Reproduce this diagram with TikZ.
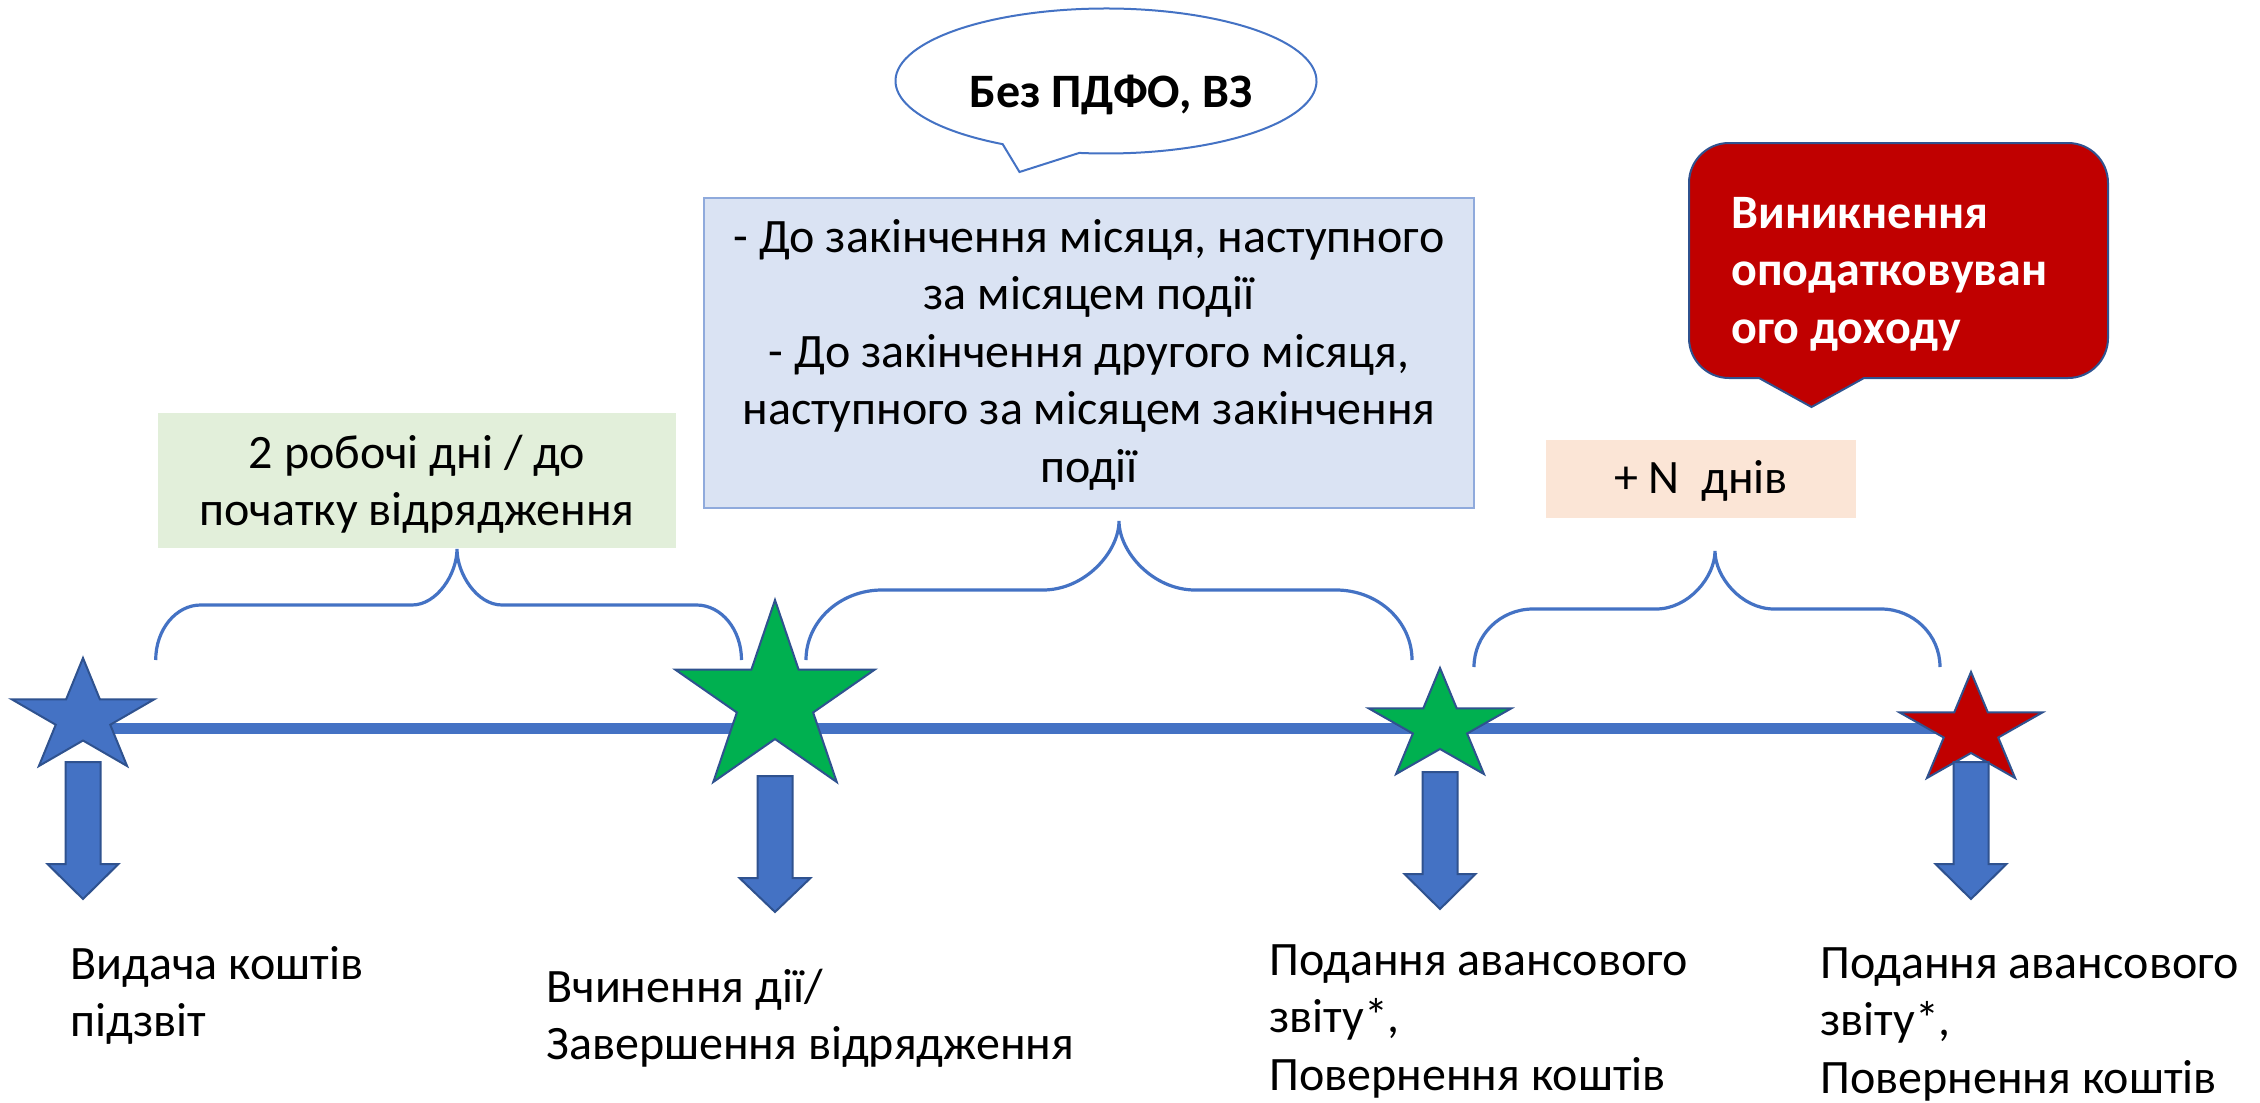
\documentclass[tikz,border=0pt]{standalone}
\usepackage{fontspec}
\setmainfont{Carlito}
\definecolor{mblue}{HTML}{4472C4}
\definecolor{dblue}{HTML}{2F528F}
\definecolor{sgreen}{HTML}{00B050}
\definecolor{sred}{HTML}{C00000}
\definecolor{boxgreen}{HTML}{E2EFDA}
\definecolor{boxblue}{HTML}{DAE3F3}
\definecolor{boxblueline}{HTML}{8FAADC}
\definecolor{boxpeach}{HTML}{FBE5D6}
\newcommand\ctext[1]{\vtop{\halign{\hfil##\hfil\cr#1\crcr}}}
\newcommand\ltext[1]{\vtop{\halign{##\hfil\cr#1\crcr}}}
\newcommand\mystar[5]{%
 \draw[starline, fill=#5] ({#1+#3*cos(90)},{#2-#4*sin(90)})
 -- ({#1+0.382*#3*cos(126)},{#2-0.382*#4*sin(126)})
 -- ({#1+#3*cos(162)},{#2-#4*sin(162)})
 -- ({#1+0.382*#3*cos(198)},{#2-0.382*#4*sin(198)})
 -- ({#1+#3*cos(234)},{#2-#4*sin(234)})
 -- ({#1+0.382*#3*cos(270)},{#2-0.382*#4*sin(270)})
 -- ({#1+#3*cos(306)},{#2-#4*sin(306)})
 -- ({#1+0.382*#3*cos(342)},{#2-0.382*#4*sin(342)})
 -- ({#1+#3*cos(18)},{#2-#4*sin(18)})
 -- ({#1+0.382*#3*cos(54)},{#2-0.382*#4*sin(54)})
 -- cycle;}
\newcommand\myarrow[4]{%
 \draw[arrowline] ({#1-17.5},#2) -- ({#1+17.5},#2) -- ({#1+17.5},#3) -- ({#1+35.5},#3)
 -- (#1,#4) -- ({#1-35.5},#3) -- ({#1-17.5},#3) -- cycle;}
% xl xt xr yt ym yb rx
\newcommand\mybrace[7]{%
 \draw[braceline] (#1,#6) .. controls (#1,{#6-0.5523*(#6-#5)}) and ({#1+#7-0.5523*#7},#5) .. ({#1+#7},#5)
 -- ({#2-#7},#5) .. controls ({#2-#7+0.5523*#7},#5) and (#2,{#5-0.5523*(#5-#4)}) .. (#2,#4)
 .. controls (#2,{#5-0.5523*(#5-#4)}) and ({#2+#7-0.5523*#7},#5) .. ({#2+#7},#5)
 -- ({#3-#7},#5) .. controls ({#3-#7+0.5523*#7},#5) and (#3,{#6-0.5523*(#6-#5)}) .. (#3,#6);}
\begin{document}
\begin{tikzpicture}[x=0.5pt,y=-0.5pt,
  starline/.style={draw=dblue, line width=1pt, line join=miter},
  arrowline/.style={draw=dblue, fill=mblue, line width=1pt},
  braceline/.style={draw=mblue, line width=1.6pt},
  txt/.style={font=\fontsize{24}{28.75}\selectfont, inner sep=0pt, text=black}]
\useasboundingbox[fill=white] (0,0) rectangle (2260,1103);
% boxes
\fill[boxgreen] (158,413) rectangle (676,548);
\draw[fill=boxblue, draw=boxblueline, line width=1pt] (704,198) rectangle (1474,508);
\fill[boxpeach] (1546,440) rectangle (1856,518);
% speech bubble
\draw[draw=mblue, fill=white, line width=1pt]
  ({1106+210.5*cos(119.4)},{81+72.5*sin(119.4)})
  arc[start angle=119.4, end angle=457.3, x radius=210.5, y radius=72.5]
  -- (1019.5,172) -- cycle;
% red callout
\draw[fill=sred, draw=dblue, line width=1pt]
  (1729,143) -- (2068,143) arc[start angle=270,end angle=360,radius=40]
  -- (2108,338) arc[start angle=0,end angle=90,radius=40]
  -- (1864,378) -- (1811.5,407) -- (1759,378) -- (1729,378)
  arc[start angle=90,end angle=180,radius=40]
  -- (1689,183) arc[start angle=180,end angle=270,radius=40] -- cycle;
% braces
\mybrace{155.7}{457}{741.5}{549}{605}{660}{45}
\mybrace{806}{1119}{1412}{521}{590}{660}{76}
\mybrace{1474}{1715}{1940}{551}{609}{667}{59}
% timeline
\draw[mblue, line width=5.75pt] (83,728.5) -- (1971,728.5);
% stars
\mystar{83}{717.7}{75}{59.7}{mblue}
\mystar{775}{700.6}{105}{100.6}{sgreen}
\mystar{1440}{726.6}{74.7}{58.6}{sgreen}
\mystar{1971}{730.6}{75}{58.6}{sred}
% arrows
\myarrow{83}{762}{864}{899}
\myarrow{775}{776}{878}{912}
\myarrow{1440}{772}{874}{909}
\myarrow{1971}{762}{864}{899}
% texts
\node[txt, anchor=base] (tgreen) at (417,468) {\ctext{2 робочі дні / до\cr початку відрядження}};
\node[txt, anchor=base] (tblue) at (1089,252) {\ctext{- До закінчення місяця, наступного\cr за місяцем події\cr - До закінчення другого місяця,\cr наступного за місяцем закінчення\cr події}};
\node[txt, anchor=base] (tpeach) at (1701,493) {+ N\ \ днів};
\node[txt, anchor=base, font=\fontsize{24}{28.75}\selectfont\bfseries] (tbubble) at (1111,107) {Без ПДФО, ВЗ};
\node[txt, anchor=base west, text=white, font=\fontsize{24}{28.75}\selectfont\bfseries] (tred) at (1731,228) {\ltext{Виникнення\cr оподатковуван\cr ого доходу}};
\node[txt, anchor=base west] (l1) at (70,979) {\ltext{Видача коштів\cr підзвіт}};
\node[txt, anchor=base west] (l2) at (546,1002) {\ltext{Вчинення дії/\cr Завершення відрядження}};
\node[txt, anchor=base west] (l3) at (1269,975) {\ltext{Подання авансового\cr звіту*,\cr Повернення коштів}};
\node[txt, anchor=base west] (l4) at (1820,978) {\ltext{Подання авансового\cr звіту*,\cr Повернення коштів}};
\end{tikzpicture}
\end{document}
